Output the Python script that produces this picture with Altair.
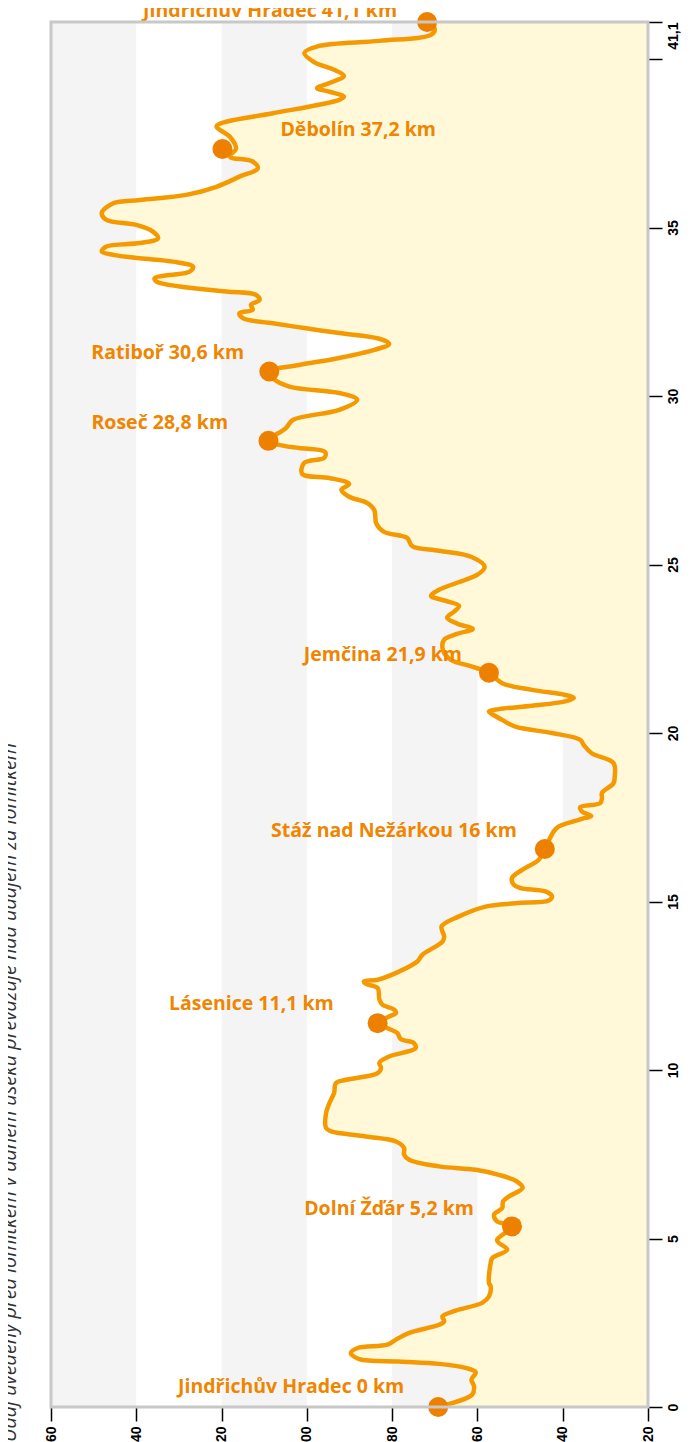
import altair as alt
import pandas as pd

# ---- profile data (km from start, elevation in m) ----
KM = [0.00, 0.37, 0.61, 0.81, 1.03, 1.16, 1.28, 1.35, 1.42, 1.60, 1.75, 1.85, 2.00, 2.20, 2.44, 2.54,
      2.69, 2.86, 3.09, 3.28, 3.58, 3.68, 4.27, 4.42, 4.67, 4.87, 4.96, 5.36, 5.51, 5.71, 5.90, 6.10,
      6.25, 6.50, 6.69, 6.89, 7.04, 7.14, 7.34, 7.49, 7.69, 7.88, 8.03, 8.18, 8.28, 8.72, 9.02, 9.32,
      9.61, 9.71, 9.91, 10.06, 10.21, 10.40, 10.65, 10.80, 10.92, 11.10, 11.22, 11.39, 11.59, 11.69,
      11.79, 11.94, 12.09, 12.43, 12.56, 12.63, 12.68, 12.92, 13.22, 13.42, 13.81, 13.96, 14.26, 14.56,
      14.85, 14.95, 15.03, 15.15, 15.30, 15.40, 15.50, 15.70, 15.94, 16.24, 16.56, 17.08, 17.23, 17.48,
      17.54, 17.67, 17.80, 17.92, 18.07, 18.22, 18.51, 18.71, 19.11, 19.40, 19.65, 19.80, 20.00, 20.19,
      20.39, 20.59, 20.64, 20.71, 20.81, 20.94, 21.04, 21.13, 21.28, 21.48, 21.79, 22.00, 22.17, 22.47,
      22.77, 22.94, 23.09, 23.24, 23.42, 23.60, 23.77, 23.92, 24.07, 24.25, 24.46, 24.69, 24.93, 25.23,
      25.41, 25.55, 25.79, 25.97, 26.21, 26.62, 26.83, 27.01, 27.22, 27.39, 27.57, 27.69, 28.02, 28.17,
      28.34, 28.46, 28.52, 28.67, 29.05, 29.29, 29.59, 29.89, 30.09, 30.28, 30.53, 30.73, 30.92, 31.13,
      31.37, 31.55, 31.70, 31.87, 32.01, 32.16, 32.31, 32.46, 32.56, 32.71, 32.85, 33.00, 33.10, 33.25,
      33.40, 33.50, 33.59, 33.69, 33.84, 33.99, 34.09, 34.19, 34.29, 34.44, 34.54, 34.68, 34.88, 35.08,
      35.23, 35.43, 35.72, 35.82, 35.97, 36.21, 36.51, 36.76, 36.96, 37.11, 37.35, 37.70, 38.00, 38.14,
      38.39, 38.79, 38.88, 39.03, 39.14, 39.29, 39.50, 39.68, 39.91, 40.18, 40.39, 40.54, 40.72, 40.90,
      41.10]
ELEV = [469.2, 461.2, 460.8, 461.4, 460.4, 462.8, 469.0, 478.4, 487.7, 489.7, 488.1, 481.1, 479.1, 476.0,
        469.0, 467.8, 468.2, 465.1, 458.9, 457.3, 456.9, 457.3, 456.9, 456.5, 453.0, 455.0, 455.4, 451.9,
        455.4, 456.1, 454.2, 454.0, 452.6, 449.4, 450.7, 455.0, 460.4, 469.0, 476.0, 477.2, 477.2, 479.1,
        486.2, 494.3, 495.5, 495.5, 494.7, 493.6, 493.2, 490.8, 483.4, 482.6, 483.0, 480.7, 474.5, 474.9,
        478.0, 478.8, 480.7, 483.4, 480.7, 479.1, 479.5, 482.3, 483.0, 483.4, 486.2, 486.6, 483.4, 478.4,
        474.1, 472.9, 468.2, 467.8, 468.4, 464.3, 458.1, 451.1, 443.3, 442.5, 444.1, 449.9, 451.5, 451.9,
        449.5, 445.6, 444.2, 442.1, 440.9, 434.7, 433.3, 435.5, 435.9, 431.2, 430.8, 430.8, 428.1, 427.8,
        428.1, 433.2, 435.1, 435.9, 442.5, 451.1, 454.2, 456.9, 457.3, 455.0, 447.2, 439.4, 437.4, 439.4,
        447.2, 454.2, 457.3, 462.0, 466.2, 468.1, 467.8, 464.8, 461.1, 464.6, 467.1, 465.5, 464.3, 467.4,
        470.9, 469.0, 464.8, 460.1, 458.3, 461.5, 469.0, 475.3, 476.5, 481.9, 483.7, 484.2, 485.9, 490.1,
        491.9, 490.1, 494.7, 501.1, 500.6, 495.9, 495.7, 501.8, 505.3, 509.0, 504.9, 503.3, 492.4, 488.2,
        492.4, 504.1, 508.0, 508.8, 501.8, 492.4, 484.2, 480.7, 483.0, 492.4, 500.2, 508.0, 515.0, 515.8,
        512.7, 513.1, 511.1, 511.9, 518.9, 529.8, 535.3, 535.7, 532.2, 527.5, 526.7, 531.4, 539.2, 545.4,
        548.1, 547.0, 539.2, 534.9, 536.1, 540.0, 547.0, 548.1, 545.4, 539.2, 528.3, 521.2, 515.8, 511.5,
        512.7, 518.1, 516.6, 518.1, 521.2, 518.9, 508.0, 492.4, 491.3, 494.7, 497.6, 494.7, 491.3, 493.6,
        498.3, 500.6, 497.1, 483.0, 470.9, 470.0, 471.8]

# ---- places ----
PLACES = ["Jindřichův Hradec 0 km", "Dolní Žďár 5,2 km", "Lásenice 11,1 km",
          "Stáž nad Nežárkou 16 km", "Jemčina 21,9 km", "Roseč 28,8 km",
          "Ratiboř 30,6 km", "Děbolín 37,2 km", "Jindřichův Hradec 41,1 km"]
PLACE_KM = [0.0, 5.36, 11.39, 16.56, 21.79, 28.67, 30.73, 37.33, 41.1]
PLACE_ELEV = [469.2, 451.9, 483.4, 444.2, 457.3, 509.0, 508.8, 519.8, 471.8]

ELEV_TICKS = [560, 540, 520, 500, 480, 460, 440, 420]
KM_TICKS = [0, 5, 10, 15, 20, 25, 30, 35, 40, 41.1]
BANDS_FROM = [560, 520, 480, 440]
BANDS_TO = [540, 500, 460, 420]

NOTE = "Údaj uvedený před lomítkem v daném úseku převažuje nad údajem za lomítkem"

# ---- styles ----
W, H = 597, 1385
LINE_C = "#f49a00"
DOT_C = "#ee8000"
TEXT_C = "#ef8500"
FILL_C = "#fff9da"
BAND_C = "#f4f4f4"
FONT = "Open Sans"
# label placement (dx, dy, align) per place
LABEL_STYLE = {
    0: (-34, -14, "right"),
    1: (-38, -11, "right"),
    2: (-44, -13, "right"),
    3: (-28, -12, "right"),
    4: (-27, -12, "right"),
    5: (-177, -12, "left"),
    6: (-178, -12, "left"),
    7: (58, -13, "left"),
    8: (-30, -5, "right"),
}

profile = pd.DataFrame({"km": KM, "elev": ELEV})
places = pd.DataFrame({"name": PLACES, "km": PLACE_KM, "elev": PLACE_ELEV, "i": range(len(PLACES))})
bands = pd.DataFrame({"a": BANDS_FROM, "b": BANDS_TO})

xscale = alt.Scale(domain=[420, 560], reverse=True, nice=False, zero=False)
yscale = alt.Scale(domain=[0, 41.1], nice=False, zero=False)

xaxis = alt.Axis(values=ELEV_TICKS, format="d", labelAngle=270, labelAlign="right",
                 labelBaseline="middle", labelFont="Liberation Sans", labelFontWeight="bold",
                 labelFontSize=14, labelColor="#000", tickColor="#000", tickSize=14, tickWidth=1.5,
                 labelPadding=5, domain=False, grid=False, title=None, orient="bottom")
yaxis = alt.Axis(values=KM_TICKS, orient="right",
                 labelExpr="datum.value == 40 ? '' : replace(format(datum.value, '.1~f'), '.', ',')",
                 labelAngle=270,
                 labelAlign={"condition": {"test": "datum.value > 41", "value": "right"},
                             "value": "center"},
                 labelBaseline="top",
                 labelFont="Liberation Sans", labelFontWeight="bold", labelFontSize=14,
                 labelColor="#000", tickColor="#000", tickSize=14, tickWidth=1.5, labelPadding=4,
                 domain=False, grid=False, title=None)

band_layer = alt.Chart(bands).mark_rect(color=BAND_C).encode(
    x=alt.X("a:Q", scale=xscale, axis=xaxis), x2="b:Q")

area = alt.Chart(profile).mark_area(orient="horizontal", color=FILL_C, interpolate="catmull-rom").encode(
    y=alt.Y("km:Q", scale=yscale, axis=yaxis),
    x=alt.X("elev:Q", scale=xscale, axis=xaxis),
    x2=alt.datum(420),
)

line = alt.Chart(profile).mark_line(color=LINE_C, strokeWidth=4.5, interpolate="catmull-rom",
                                    strokeJoin="round", strokeCap="round").encode(
    y=alt.Y("km:Q", scale=yscale),
    x=alt.X("elev:Q", scale=xscale),
    order=alt.Order("km:Q"),
)

dots = alt.Chart(places).mark_circle(color=DOT_C, opacity=1, size=400).encode(
    y=alt.Y("km:Q", scale=yscale), x=alt.X("elev:Q", scale=xscale))

label_layers = []
for i, (dx, dy, al) in LABEL_STYLE.items():
    label_layers.append(
        alt.Chart(places).transform_filter(alt.datum.i == i).mark_text(
            dx=dx, dy=dy, align=al, baseline="alphabetic", font=FONT, fontWeight="bold",
            fontSize=19.5, color=TEXT_C).encode(
            y=alt.Y("km:Q", scale=yscale), x=alt.X("elev:Q", scale=xscale), text="name:N"))

border = alt.Chart(pd.DataFrame({"k": [0]})).mark_rect(
    fill=None, stroke="#c8c8c8", strokeWidth=3).encode(
    x=alt.value(0), x2=alt.value(W), y=alt.value(0), y2=alt.value(H))

note = alt.Chart(pd.DataFrame({"t": [NOTE]})).mark_text(
    angle=270, align="left", baseline="alphabetic", font=FONT, fontStyle="italic",
    fontSize=19.8, color="#333333").encode(
    text="t:N", x=alt.value(-35), y=alt.value(1420))

chart = alt.layer(band_layer, area, line, dots, *label_layers, border, note).properties(
    width=W, height=H,
    autosize=alt.AutoSizeParams(type="none"),
    padding={"left": 43, "top": 14, "right": 35, "bottom": 35},
).configure_view(stroke=None, fill="white").configure(background="white")

chart.save("out.html", embed_options={"renderer": "svg", "actions": False})
